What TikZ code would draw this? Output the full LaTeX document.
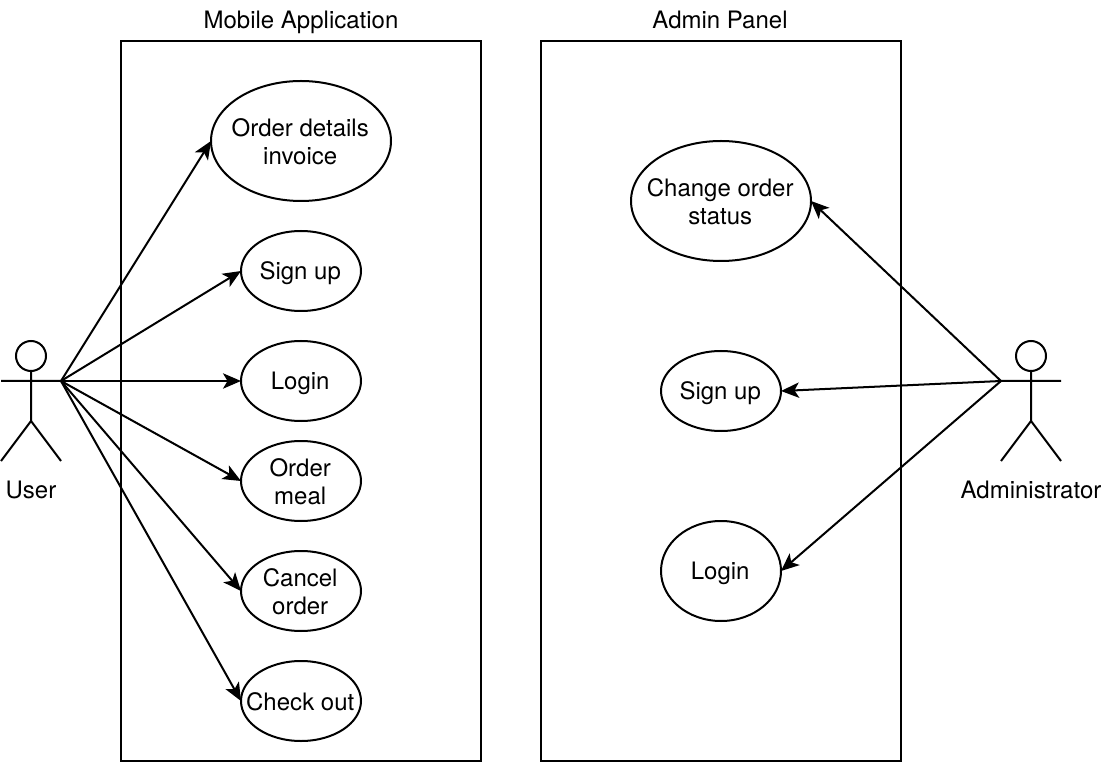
\documentclass[tikz,border=0pt]{standalone}
\usepackage{fontspec}
\setmainfont{TeX Gyre Heros}
\usetikzlibrary{shapes.geometric,arrows.meta}
\tikzset{
  uc/.style={draw=black,line width=1.5pt,ellipse,inner sep=0pt,outer sep=0pt},
  ucbig/.style={uc,minimum width=135pt,minimum height=90pt},
  ucsmall/.style={uc,minimum width=90pt,minimum height=60pt},
  ut/.style={align=center,inner sep=0pt,font=\fontsize{18}{21}\selectfont,xshift=-0.6pt,yshift=-0.75pt},
  utd/.style={ut,yshift=-1.1pt},
  box/.style={draw=black,line width=1.5pt,rectangle,inner sep=0pt},
  lab/.style={font=\fontsize{18}{21}\selectfont,inner sep=0pt,anchor=base},
  actor/.style={line width=1.5pt},
  conn/.style={line width=1.5pt,-{Stealth[length=13.5pt,width=11.5pt,inset=3.4pt]}}
}
\begin{document}
\begin{tikzpicture}[x=0.75pt,y=-0.75pt]
\useasboundingbox (0,0) rectangle (1102,762);
\node[box,minimum width=270.0pt,minimum height=540.0pt] (mob) at (301,401) {};
\node[box,minimum width=270.0pt,minimum height=540.0pt] (adm) at (721,401) {};
\node[lab] (mobt) at (301,29) {Mobile Application};
\node[lab] (admt) at (720,29) {Admin Panel};
\node[ucbig,label={[ut]center:Order details\\invoice}] (a1) at (301,141) {};
\node[ucsmall,label={[utd]center:Sign up}] (a2) at (301,271) {};
\node[ucsmall,label={[utd]center:Login}] (a3) at (301,381) {};
\node[ucsmall,label={[ut]center:Order\\meal}] (a4) at (301,481) {};
\node[ucsmall,label={[ut]center:Cancel\\order}] (a5) at (301,591) {};
\node[ucsmall,label={[ut]center:Check out}] (a6) at (301,701) {};
\node[ucbig,label={[ut]center:Change order\\status}] (b1) at (721,201) {};
\node[ucsmall,label={[utd]center:Sign up}] (b2) at (721,391) {};
\node[uc,minimum width=90pt,minimum height=75pt,label={[utd]center:Login}] (b3) at (721,571) {};
% user actor
\draw[actor] (31,356) circle (15);
\draw[actor] (31,371) -- (31,421) (1,381) -- (61,381) (31,421) -- (1,461) (31,421) -- (61,461);
\coordinate (u) at (61,381);
\node[lab] (ul) at (31,498) {User};
% admin actor
\draw[actor] (1031,356) circle (15);
\draw[actor] (1031,371) -- (1031,421) (1001,381) -- (1061,381) (1031,421) -- (1001,461) (1031,421) -- (1061,461);
\coordinate (v) at (1001,381);
\node[lab] (vl) at (1031,498) {Administrator};
\draw[conn] (u) -- (a1.west);
\draw[conn] (u) -- (a2.west);
\draw[conn] (u) -- (a3.west);
\draw[conn] (u) -- (a4.west);
\draw[conn] (u) -- (a5.west);
\draw[conn] (u) -- (a6.west);
\draw[conn] (v) -- (b1.east);
\draw[conn] (v) -- (b2.east);
\draw[conn] (v) -- (b3.east);
\end{tikzpicture}
\end{document}
